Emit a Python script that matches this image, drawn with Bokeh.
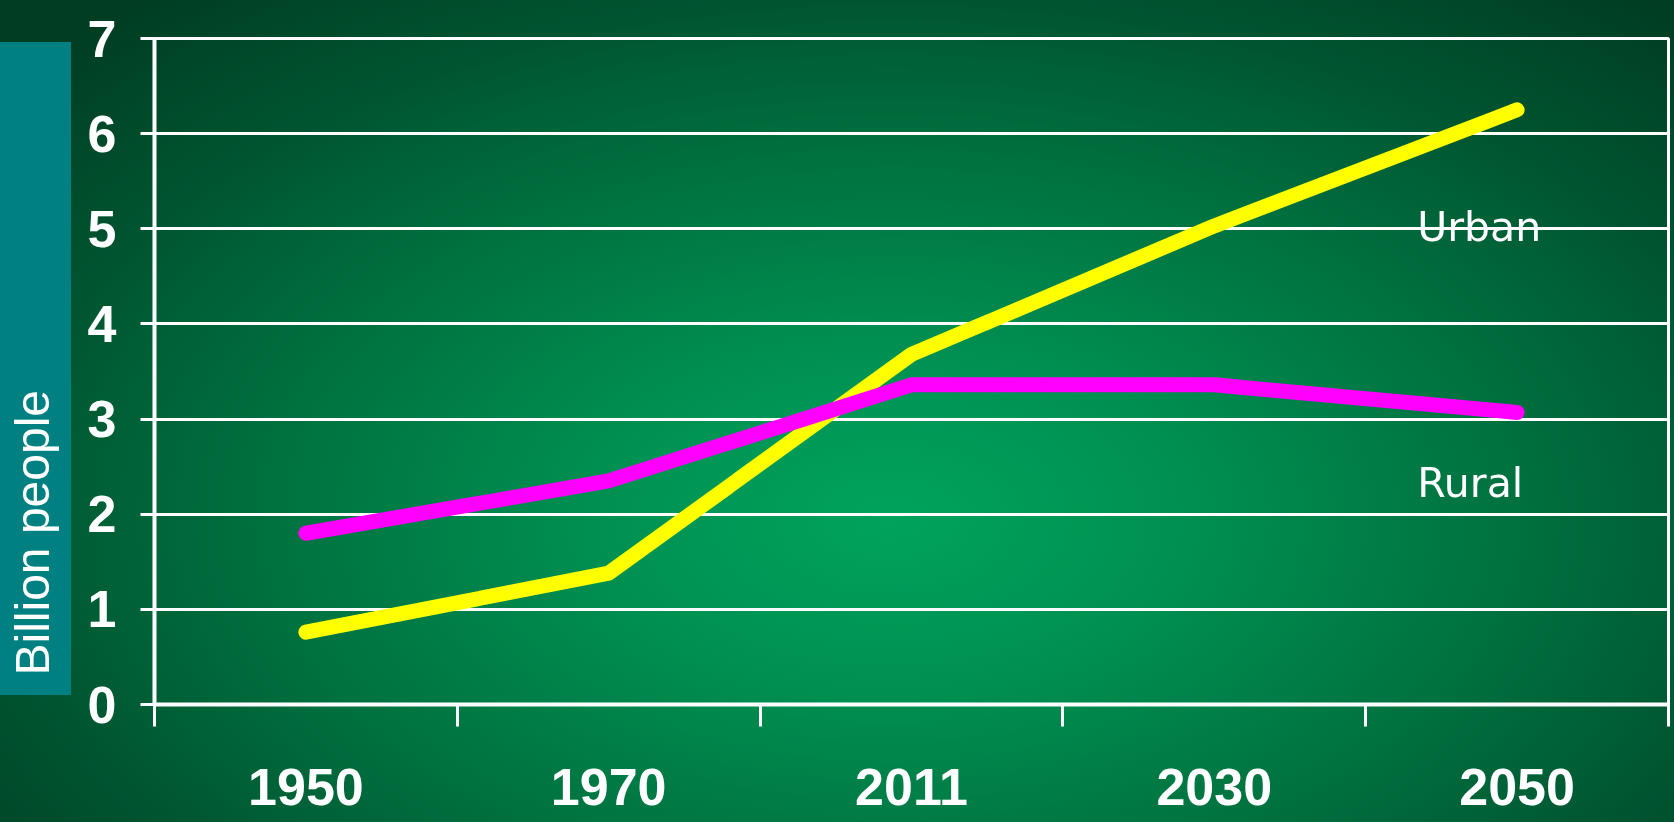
from bokeh.plotting import figure
from bokeh.models import (FactorRange, Range1d, LinearAxis, FixedTicker, Label, Title)
from bokeh.embed import file_html
from bokeh.resources import INLINE

# ---- data ----
years = ["1950", "1970", "2011", "2030", "2050"]
urban = [0.76, 1.38, 3.68, 5.03, 6.25]
rural = [1.80, 2.35, 3.36, 3.36, 3.07]
y_ticks = [0, 1, 2, 3, 4, 5, 6, 7]
y_label = "Billion people"
series_labels = ["Urban", "Rural"]

SHIFT = 30               # canvas starts a little left of the window edge
W, H = 1674 + SHIFT, 822
TICK_FONT = "Liberation Sans"
TICK_SIZE = "52px"

p = figure(
    width=W, height=H,
    x_range=FactorRange(factors=years),
    y_range=Range1d(0, 7),
    x_axis_type=None,
    output_backend="svg",
    toolbar_location=None,
    min_border_left=154 + SHIFT, min_border_right=6,
    min_border_top=38, min_border_bottom=118,
)
p.styles = {
    "position": "fixed", "left": f"-{SHIFT}px", "top": "0px",
    "background": (
        f"linear-gradient(#008080, #008080) {SHIFT}px 42px / 71px 653px no-repeat, "
        "radial-gradient(ellipse 62% 75% at 54% 63%, #00a35c 0%, #009253 25%, "
        "#00703f 60%, #005430 85%, #003d22 110%)"
    ),
}
p.border_fill_color = None
p.background_fill_color = None
p.outline_line_color = "white"
p.outline_line_width = 3

# grid
p.xgrid.grid_line_color = None
p.ygrid.grid_line_color = "white"
p.ygrid.grid_line_width = 3
p.ygrid.ticker = FixedTicker(ticks=y_ticks)

# y axis
ya = p.yaxis[0]
ya.ticker = FixedTicker(ticks=y_ticks)
ya.axis_line_color = "white"
ya.axis_line_width = 4
ya.major_tick_line_color = "white"
ya.major_tick_line_width = 3
ya.major_tick_out = 14
ya.major_tick_in = 0
ya.minor_tick_line_color = None
ya.major_label_text_color = "white"
ya.major_label_text_font = TICK_FONT
ya.major_label_text_font_style = "bold"
ya.major_label_text_font_size = TICK_SIZE
ya.major_label_standoff = 24

# y axis title (sits in the teal box)
ytitle = Title(text=y_label, align="left", offset=29, standoff=51,
               text_color="white", text_font="Liberation Sans",
               text_font_style="normal", text_font_size="48px")
p.add_layout(ytitle, "left")

# x axis: labels at category centres, tick marks on boundaries
centres = [i + 0.5 for i in range(len(years))]
bounds = [i for i in range(len(years) + 1)]
xa = LinearAxis(
    ticker=FixedTicker(ticks=centres, minor_ticks=bounds),
    major_label_overrides={c: y for c, y in zip(centres, years)},
)
xa.axis_line_color = "white"
xa.axis_line_width = 4
xa.major_tick_line_color = None
xa.major_tick_out = 22
xa.major_tick_in = 0
xa.minor_tick_line_color = "white"
xa.minor_tick_line_width = 3
xa.minor_tick_out = 22
xa.minor_tick_in = 0
xa.major_label_text_color = "white"
xa.major_label_text_font = TICK_FONT
xa.major_label_text_font_style = "bold"
xa.major_label_text_font_size = TICK_SIZE
xa.major_label_standoff = 42
p.add_layout(xa, "below")

# lines
p.line(x=years, y=urban, line_color="#ffff00", line_width=15, line_cap="round", line_join="round")
p.line(x=years, y=rural, line_color="#ff00ff", line_width=15, line_cap="round", line_join="round")

# series labels
p.add_layout(Label(x=4.17, y=5.02, text=series_labels[0], text_color="white",
                   text_font="DejaVu Sans", text_font_size="41px",
                   text_align="left", text_baseline="alphabetic"))
p.add_layout(Label(x=4.17, y=2.33, text=series_labels[1], text_color="white",
                   text_font="DejaVu Sans", text_font_size="41px",
                   text_align="left", text_baseline="alphabetic"))

open("out.html", "w").write(file_html(p, INLINE))
